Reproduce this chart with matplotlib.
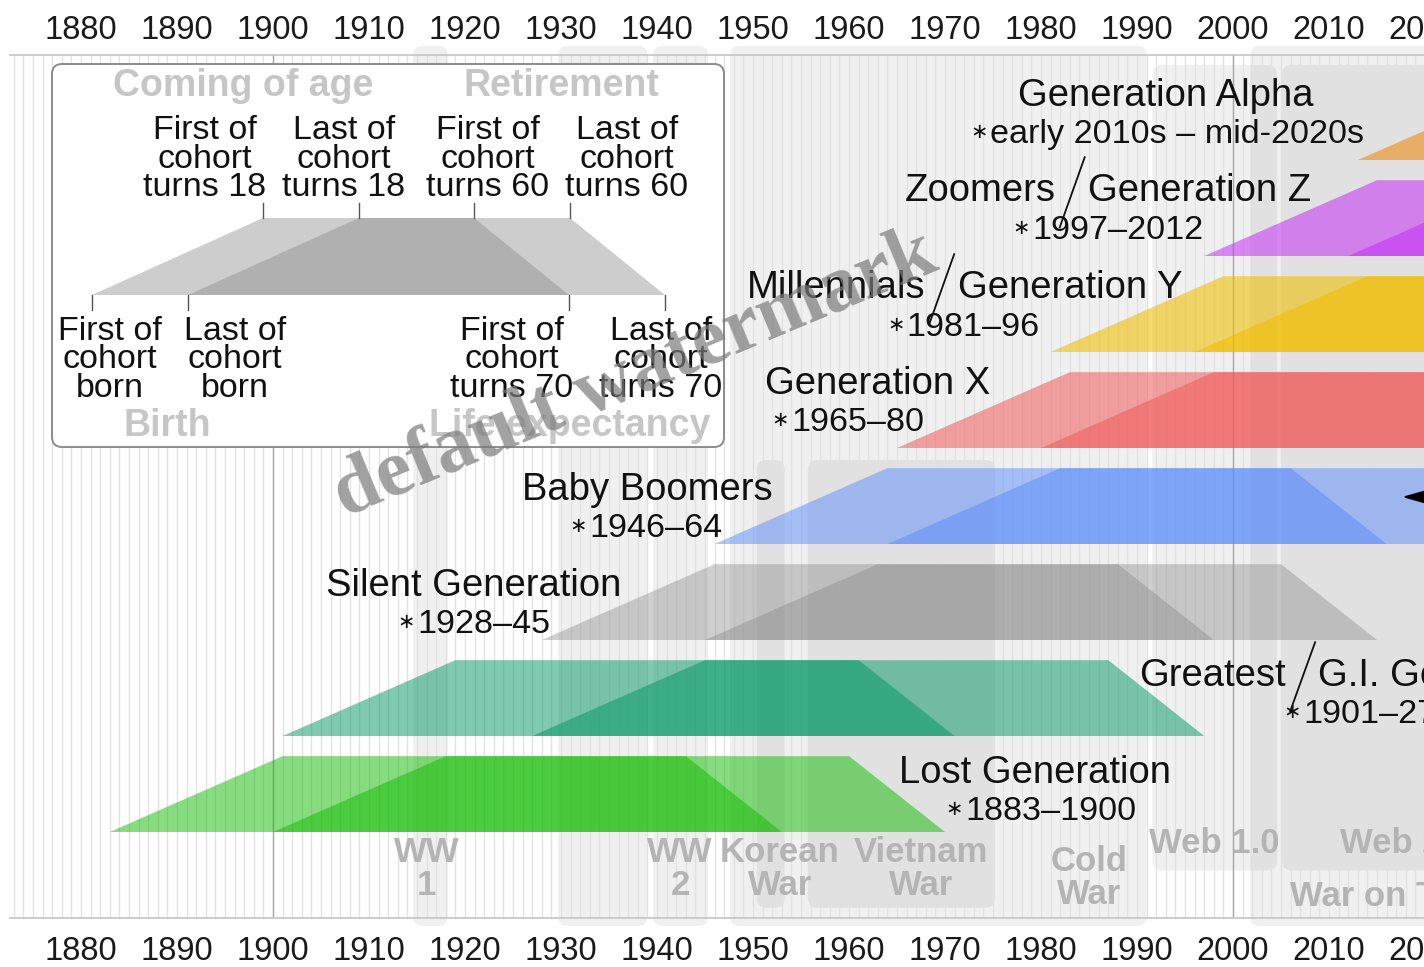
import matplotlib.pyplot as plt
from matplotlib.patches import Polygon, FancyBboxPatch
from matplotlib import font_manager

installed = {f.name for f in font_manager.fontManager.ttflist}
SANS = [f for f in ['Liberation Sans', 'DejaVu Sans'] if f in installed] or ['DejaVu Sans']
SERIF = [f for f in ['Liberation Serif', 'DejaVu Serif'] if f in installed] or ['DejaVu Serif']
plt.rcParams['font.family'] = SANS

# --- data ---------------------------------------------------------------
gen_name = ["Lost Generation", "Greatest", "Silent Generation", "Baby Boomers",
            "Generation X", "Millennials", "Zoomers", "Generation Alpha"]
gen_alt = [None, "G.I. Generation", None, None, None, "Generation Y", "Generation Z", None]
gen_dates = ["1883\u20131900", "1901\u201327", "1928\u201345", "1946\u201364",
             "1965\u201380", "1981\u201396", "1997\u20132012", "early 2010s \u2013 mid-2020s"]
born_first = [1883, 1901, 1928, 1946, 1965, 1981, 1997, 2013]
born_last = [1900, 1927, 1945, 1964, 1980, 1996, 2012, 2025]
AGE_ADULT, AGE_RETIRE, AGE_LIFE = 18, 60, 70

tick_years = list(range(1880, 2021, 10))
century_years = [1900, 2000]

events = ["WW\n1", "", "WW\n2", "Korean\nWar", "Vietnam\nWar", "Cold\nWar",
          "Web 1.0", "Web 2.0", "War on Terror"]
ev_start = [1914.6, 1929.7, 1939.6, 1950.4, 1955.7, 1947.6, 1991.6, 2005.1, 2001.8]
ev_end = [1918.2, 1939.0, 1945.3, 1953.3, 1975.2, 1991.0, 2004.6, 2030.0, 2030.0]

# --- styles / layout ----------------------------------------------------
gen_color = ['#11bb00', '#009664', '#888888', '#5a8cfa', '#f05a5a', '#f0be00', '#c328f5', '#f08c14']
gen_alpha = [0.5, 0.5, 0.4, 0.5, 0.55, 0.58, 0.52, 0.6]
BAND = 0.79            # band height in row units (row pitch = 1)
name_x = [1979.4, 2007.2, 1920.9, 1938.95, 1963.0, 1969.6, 1983.2, 1993.0]  # centre / slash position
name_off = [0.177, 0.167, 0.229, 0.229, 0.125, 0.125, 0.115, 0.125]        # below band top
date_left = [1972.1, 2007.3, 1915.0, 1932.9, 1954.0, 1966.0, 1979.1, 1974.7]
date_off = [0.573, 0.563, 0.625, 0.625, 0.521, 0.531, 0.521, 0.521]

ev_top = [8.19, 8.19, 8.19, 3.875, 3.875, 8.19, 7.99, 7.99, 8.19]
ev_bot = [-0.98, -0.98, -0.98, -0.79, -0.79, -0.98, -0.40, -0.40, -0.98]
ev_lx = [1916.0, 1934.0, 1942.4, 1952.8, 1967.5, 1985.0, 1998.0, 2011.1, 2005.9]
ev_ly = [-0.385, -0.385, -0.385, -0.39, -0.39, -0.484, -0.115, -0.115, -0.667]
ev_ha = ['center'] * 7 + ['left', 'left']

fig = plt.figure(figsize=(14.24, 9.67), dpi=100)
ax = fig.add_axes([10 / 1424, 49 / 967, 1416 / 1424, 863 / 967])
ax.set_xlim(1872.6, 1872.6 + 1416 / 9.6)
ax.set_ylim(-0.896, 8.094)

# yearly grid
for yr in range(1873, 2021):
    ax.axvline(yr, color='#e2e2e2', lw=1.0, zorder=1)
for yr in century_years:
    ax.axvline(yr, color='#a8a8a8', lw=1.0, zorder=1)

# historical events
for i, lab in enumerate(events):
    box = FancyBboxPatch((ev_start[i], ev_bot[i]), ev_end[i] - ev_start[i], ev_top[i] - ev_bot[i],
                         boxstyle='round,pad=0,rounding_size=1.0', mutation_aspect=0.1,
                         fc='black', ec='none', alpha=0.06, zorder=0.5, clip_on=False)
    ax.add_patch(box)
    if lab:
        ax.text(ev_lx[i], ev_ly[i], lab, ha=ev_ha[i], va='center', fontsize=25, fontweight='bold',
                color='#b4b4b4', linespacing=1.0, zorder=2)

# generations: one trapezoid for the first and one for the last of each cohort
for i in range(len(gen_name)):
    for b in (born_first[i], born_last[i]):
        verts = [(b, i), (b + AGE_ADULT, i + BAND), (b + AGE_RETIRE, i + BAND), (b + AGE_LIFE, i)]
        ax.add_patch(Polygon(verts, closed=True, fc=gen_color[i], ec='none',
                             alpha=gen_alpha[i], zorder=3))
    ny = i + BAND - name_off[i]
    dy = i + BAND - date_off[i]
    if gen_alt[i] is None:
        ax.text(name_x[i], ny, gen_name[i], ha='center', va='center', fontsize=27.5,
                color='#111111', zorder=5)
    else:
        gap = 1.7
        ax.text(name_x[i] - gap, ny, gen_name[i], ha='right', va='center', fontsize=27.5,
                color='#111111', zorder=5)
        ax.text(name_x[i] + gap, ny, gen_alt[i], ha='left', va='center', fontsize=27.5,
                color='#111111', zorder=5)
        ax.plot([name_x[i] + 1.35, name_x[i] - 1.25], [ny + 0.354, dy + 0.03],
                color='#111111', lw=1.3, zorder=5, clip_on=False)
    dt = ax.text(date_left[i], dy, gen_dates[i], ha='left', va='center', fontsize=24.6,
                 color='#111111', zorder=5)
    ax.annotate('\u2217', xy=(0, 0.56), xycoords=dt, xytext=(-1.5, 0), textcoords='offset points',
                ha='right', va='center', fontsize=15, color='#111111', zorder=5,
                family=['DejaVu Sans'])

# arrowhead from an off-picture label
ax.annotate('', xy=(2017.3, 3.49), xytext=(2026, 3.49),
            arrowprops=dict(arrowstyle='-|>,head_length=1.6,head_width=0.45',
                            color='black', lw=1.5, mutation_scale=20),
            annotation_clip=False, zorder=6)

# axes frame and year labels
for s in ('left', 'right'):
    ax.spines[s].set_visible(False)
for s in ('top', 'bottom'):
    ax.spines[s].set_color('#c4c4c4')
    ax.spines[s].set_linewidth(1.2)
ax.set_yticks([])
ax.set_xticks(tick_years)
ax.tick_params(axis='x', length=0, labelsize=23.5, labelcolor='#1a1a1a', pad=13.3)
top = ax.secondary_xaxis('top')
top.set_xticks(tick_years)
top.tick_params(axis='x', length=0, labelsize=23.5, labelcolor='#1a1a1a', pad=6.8)
top.spines['top'].set_visible(False)

# --- key (inset) --------------------------------------------------------
leg = fig.add_axes([52 / 1424, (967 - 447) / 967, 672 / 1424, 383 / 967])
leg.set_xlim(0, 672)
leg.set_ylim(383, 0)
leg.axis('off')
leg.add_patch(FancyBboxPatch((0, 0), 672, 383, boxstyle='round,pad=0,rounding_size=10',
                             fc='white', ec='#8c8c8c', lw=1.4, clip_on=False, zorder=0))

key_first = [40, 211, 422, 517]   # schematic: born, turns 18, turns 60, turns 70
key_shift = 96                    # first -> last of cohort
key_top, key_bot = 154, 231
for off in (0, key_shift):
    p = [v + off for v in key_first]
    leg.add_patch(Polygon([(p[0], key_bot), (p[1], key_top), (p[2], key_top), (p[3], key_bot)],
                          closed=True, fc='#888888', ec='none', alpha=0.42, zorder=2))
top_ticks = [key_first[1], key_first[1] + key_shift, key_first[2], key_first[2] + key_shift]
bot_ticks = [key_first[0], key_first[0] + key_shift, key_first[3], key_first[3] + key_shift]
for x in top_ticks:
    leg.plot([x, x], [key_top - 15, key_top], color='#555555', lw=1.0, zorder=3)
for x in bot_ticks:
    leg.plot([x, x], [key_bot, key_bot + 15], color='#555555', lw=1.0, zorder=3)

top_labels = ["First of\ncohort\nturns 18", "Last of\ncohort\nturns 18",
              "First of\ncohort\nturns 60", "Last of\ncohort\nturns 60"]
bot_labels = ["First of\ncohort\nborn", "Last of\ncohort\nborn",
              "First of\ncohort\nturns 70", "Last of\ncohort\nturns 70"]
top_lx = [153, 292, 436, 575]
bot_lx = [58, 183, 460, 609]
for x, t in zip(top_lx, top_labels):
    leg.text(x, 95, t, ha='center', va='center', fontsize=24.5, linespacing=0.89,
             color='#111111', zorder=4)
for x, t in zip(bot_lx, bot_labels):
    leg.text(x, 296, t, ha='center', va='center', fontsize=24.5, linespacing=0.89,
             color='#111111', zorder=4)
for (x, y), t in zip([(191, 22), (509, 22), (115, 362), (518, 362)],
                     ["Coming of age", "Retirement", "Birth", "Life expectancy"]):
    leg.text(x, y, t, ha='center', va='center', fontsize=27, fontweight='bold',
             color='#c6c6c6', zorder=4)

# watermark
fig.text(635 / 1424, 1 - 375 / 967, "default watermark", rotation=22.6, fontsize=58,
         fontweight='bold', family=SERIF, color='#7a7a7a', alpha=0.7,
         ha='center', va='center', zorder=100)

fig.savefig('out.png', dpi=100)
